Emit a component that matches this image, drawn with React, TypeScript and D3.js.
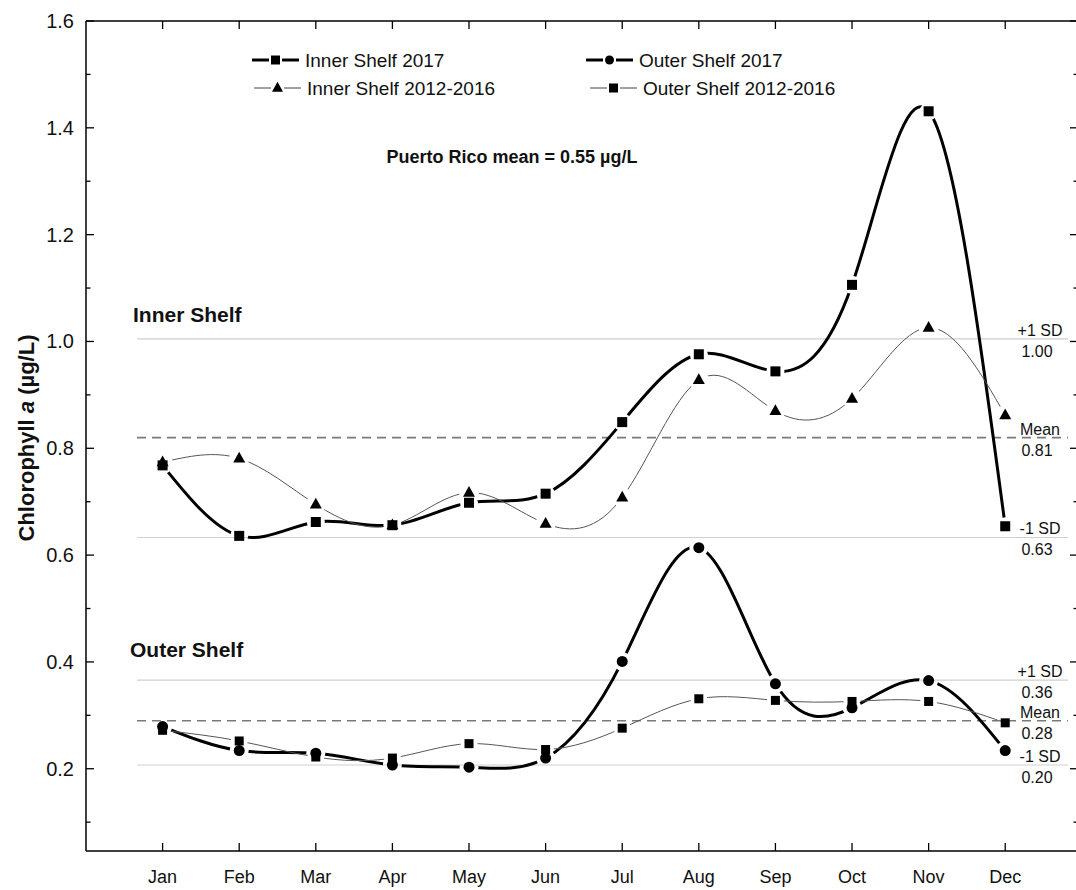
import React from "react";
import * as d3 from "d3";

// month categories
const months = ["Jan", "Feb", "Mar", "Apr", "May", "Jun", "Jul", "Aug", "Sep", "Oct", "Nov", "Dec"];

// chlorophyll a (µg/L)
const innerShelf2017 = [0.768, 0.636, 0.662, 0.656, 0.698, 0.715, 0.849, 0.976, 0.944, 1.106, 1.431, 0.654];
const innerShelf2012to2016 = [0.774, 0.781, 0.695, 0.656, 0.717, 0.659, 0.708, 0.928, 0.87, 0.893, 1.026, 0.862];
const outerShelf2017 = [0.279, 0.234, 0.229, 0.207, 0.203, 0.22, 0.401, 0.614, 0.359, 0.314, 0.365, 0.234];
const outerShelf2012to2016 = [0.272, 0.252, 0.222, 0.22, 0.247, 0.236, 0.276, 0.331, 0.328, 0.326, 0.326, 0.286];

// reference lines (+1 SD, mean, -1 SD)
const innerRefValues = [1.005, 0.82, 0.633];
const innerRefLabels = [["+1 SD", "1.00"], ["Mean", "0.81"], ["-1 SD", "0.63"]];
const outerRefValues = [0.366, 0.29, 0.207];
const outerRefLabels = [["+1 SD", "0.36"], ["Mean", "0.28"], ["-1 SD", "0.20"]];

const yMajorTicks = [0.2, 0.4, 0.6, 0.8, 1.0, 1.2, 1.4, 1.6];
const yMinorTicks = [0.1, 0.3, 0.5, 0.7, 0.9, 1.1, 1.3, 1.5];

const legendLabels = ["Inner Shelf 2017", "Outer Shelf 2017", "Inner Shelf 2012-2016", "Outer Shelf 2012-2016"];

const width = 1076;
const height = 890;
const marginLeft = 86;
const plotRight = 1078;
const plotTop = 21;
const plotBottom = 851;
const font = "'Liberation Sans', Arial, sans-serif";

type Shape = "square" | "circle" | "triangle";

function Marker({ shape, cx, cy, size }: { shape: Shape; cx: number; cy: number; size: number }) {
  if (shape === "circle") return <circle cx={cx} cy={cy} r={size / 2} fill="#000" />;
  if (shape === "triangle") {
    const h = size * 0.9;
    return (
      <path
        d={`M${cx},${cy - h * 0.62}L${cx + size / 2},${cy + h * 0.38}L${cx - size / 2},${cy + h * 0.38}Z`}
        fill="#000"
      />
    );
  }
  return <rect x={cx - size / 2} y={cy - size / 2} width={size} height={size} fill="#000" />;
}

export default function App() {
  const x = d3.scaleLinear().domain([0, 12.95]).range([marginLeft, plotRight]);
  const y = d3.scaleLinear().domain([0.046, 1.6]).range([plotBottom, plotTop]);

  const line = d3
    .line<number>()
    .x((d, i) => x(i + 1))
    .y((d) => y(d))
    .curve(d3.curveNatural);

  const series = [
    { key: "in17", values: innerShelf2017, thick: true, shape: "square" as Shape, size: 10 },
    { key: "in1216", values: innerShelf2012to2016, thick: false, shape: "triangle" as Shape, size: 12 },
    { key: "out17", values: outerShelf2017, thick: true, shape: "circle" as Shape, size: 11 },
    { key: "out1216", values: outerShelf2012to2016, thick: false, shape: "square" as Shape, size: 9 },
  ];

  const refGroups = [
    { values: innerRefValues, labels: innerRefLabels },
    { values: outerRefValues, labels: outerRefLabels },
  ];

  const legendItems = [
    { s: series[0], lx: 252, ly: 60, label: legendLabels[0] },
    { s: series[2], lx: 586, ly: 60, label: legendLabels[1] },
    { s: series[1], lx: 254, ly: 88, label: legendLabels[2] },
    { s: series[3], lx: 590, ly: 88, label: legendLabels[3] },
  ];

  return (
    <svg
      width={width}
      height={height}
      style={{ position: "absolute", left: 0, top: 0, background: "#fff" }}
      fontFamily={font}
    >
      <defs>
        {series.map((s) => (
          <mask key={s.key} id={`gap-${s.key}`} maskUnits="userSpaceOnUse" x={0} y={0} width={width} height={height}>
            <rect x={0} y={0} width={width} height={height} fill="#fff" />
            {s.values.map((v, i) => (
              <circle key={i} cx={x(i + 1)} cy={y(v)} r={s.size / 2 + 4} fill="#000" />
            ))}
          </mask>
        ))}
      </defs>

      {/* reference lines */}
      {refGroups.map((g, gi) =>
        g.values.map((v, i) => (
          <g key={`${gi}-${i}`}>
            <line
              x1={137}
              x2={1068}
              y1={y(v)}
              y2={y(v)}
              stroke={i === 1 ? "#7a7a7a" : "#cfcfcf"}
              strokeWidth={i === 1 ? 1.6 : 1.2}
              strokeDasharray={i === 1 ? "9 6" : undefined}
            />
            <text x={1040} y={y(v) - 3} fontSize={16} textAnchor="middle" fill="#111">
              {g.labels[i][0]}
            </text>
            <text x={1037} y={y(v) + 18} fontSize={16} textAnchor="middle" fill="#111">
              {g.labels[i][1]}
            </text>
          </g>
        ))
      )}

      {/* series */}
      {series.map((s) => (
        <g key={s.key}>
          <path
            d={line(s.values) ?? ""}
            fill="none"
            stroke={s.thick ? "#000" : "#555"}
            strokeWidth={s.thick ? 3 : 1}
            mask={`url(#gap-${s.key})`}
          />
          {s.values.map((v, i) => (
            <Marker key={i} shape={s.shape} cx={x(i + 1)} cy={y(v)} size={s.size} />
          ))}
        </g>
      ))}

      {/* axes frame */}
      <line x1={marginLeft} x2={marginLeft} y1={plotTop} y2={plotBottom} stroke="#000" strokeWidth={1.5} />
      <line x1={plotRight} x2={plotRight} y1={plotTop} y2={plotBottom} stroke="#000" strokeWidth={1.5} />
      <line x1={marginLeft} x2={plotRight} y1={plotTop} y2={plotTop} stroke="#000" strokeWidth={1.5} />
      <line x1={marginLeft} x2={plotRight} y1={plotBottom} y2={plotBottom} stroke="#000" strokeWidth={1.5} />

      {yMajorTicks.map((t) => (
        <g key={`ym${t}`}>
          <line x1={marginLeft} x2={marginLeft + 8} y1={y(t)} y2={y(t)} stroke="#000" strokeWidth={1.3} />
          <line x1={plotRight} x2={plotRight - 8} y1={y(t)} y2={y(t)} stroke="#000" strokeWidth={1.3} />
          <text x={74} y={y(t)} dy="0.35em" fontSize={20} textAnchor="end" fill="#111">
            {t.toFixed(1)}
          </text>
        </g>
      ))}
      {yMinorTicks.map((t) => (
        <g key={`yn${t}`}>
          <line x1={marginLeft} x2={marginLeft + 4.5} y1={y(t)} y2={y(t)} stroke="#000" strokeWidth={1.3} />
          <line x1={plotRight} x2={plotRight - 4.5} y1={y(t)} y2={y(t)} stroke="#000" strokeWidth={1.3} />
        </g>
      ))}
      {months.map((m, i) => (
        <g key={m}>
          <line x1={x(i + 1)} x2={x(i + 1)} y1={plotBottom} y2={plotBottom - 8} stroke="#000" strokeWidth={1.3} />
          <line x1={x(i + 1)} x2={x(i + 1)} y1={plotTop} y2={plotTop + 8} stroke="#000" strokeWidth={1.3} />
          <text x={x(i + 1)} y={883} fontSize={18} textAnchor="middle" fill="#111">
            {m}
          </text>
        </g>
      ))}

      {/* y axis title */}
      <text
        transform={`translate(34,${438}) rotate(-90)`}
        textAnchor="middle"
        fontSize={22}
        fontWeight="bold"
        fill="#111"
      >
        Chlorophyll <tspan fontStyle="italic">a</tspan> (µg/L)
      </text>

      {/* annotations */}
      <text x={512} y={163} textAnchor="middle" fontSize={18} fontWeight="bold" fill="#111">
        Puerto Rico mean = 0.55 µg/L
      </text>
      <text x={133} y={322} fontSize={21} fontWeight="bold" fill="#111">
        Inner Shelf
      </text>
      <text x={130} y={657} fontSize={21} fontWeight="bold" fill="#111">
        Outer Shelf
      </text>

      {/* legend */}
      {legendItems.map(({ s, lx, ly, label }) => (
        <g key={label}>
          <line x1={lx} x2={lx + 17} y1={ly} y2={ly} stroke={s.thick ? "#000" : "#444"} strokeWidth={s.thick ? 3 : 1} />
          <line x1={lx + 30} x2={lx + 47} y1={ly} y2={ly} stroke={s.thick ? "#000" : "#444"} strokeWidth={s.thick ? 3 : 1} />
          <Marker shape={s.shape} cx={lx + 23.5} cy={ly} size={s.shape === "triangle" ? 11 : 9} />
          <text x={lx + 53} y={ly} dy="0.35em" fontSize={19} fill="#111">
            {label}
          </text>
        </g>
      ))}
    </svg>
  );
}
